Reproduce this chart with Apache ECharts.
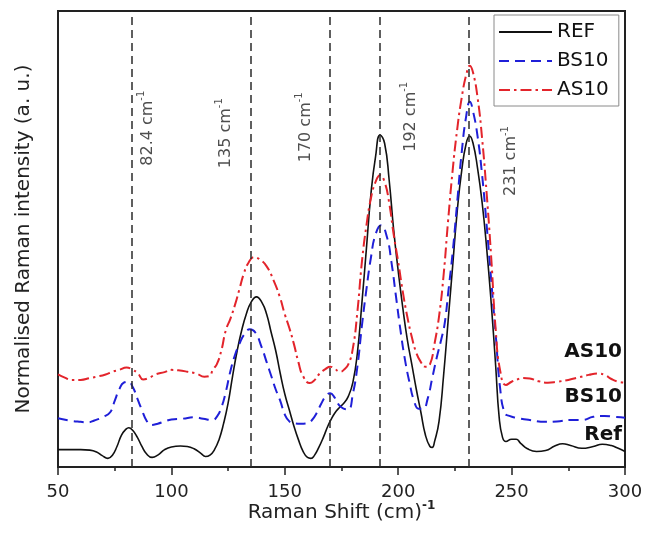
<!DOCTYPE html>
<html>
<head>
<meta charset="utf-8">
<script src="https://cdn.jsdelivr.net/npm/echarts@6/dist/echarts.min.js"></script>
<style>
  html, body { margin: 0; padding: 0; background: #ffffff; }
  #chart { width: 646px; height: 534px; }
</style>
</head>
<body>
<div id="chart"></div>
<script>
// Raman spectra (normalised, offset) — Raman shift in cm^-1
const refShift = [50, 55, 60, 64, 67, 69.5, 72, 74, 76, 78, 80, 81.2, 83, 85, 87, 89, 91.5, 94, 97, 100, 104, 107, 110, 113, 115, 117, 119, 121, 123, 125, 127, 129, 131, 133, 135, 137.5, 140, 142, 144, 146, 148, 150, 152, 154, 156, 158, 160, 161.5, 163, 165, 167, 169, 170.5, 172, 174, 176, 178, 180, 182, 184, 186, 188, 190, 192, 194, 196, 198, 200, 202, 204, 206, 208, 210, 212, 214, 215, 216, 218, 220, 222, 224, 226, 228, 230, 231.5, 233, 235, 237, 239, 241, 243, 244.5, 246, 247.5, 250, 252, 254, 257, 261, 265, 269, 272.5, 276, 281, 286, 290, 294, 297, 300];
const refIntensity = [3.8, 3.8, 3.8, 3.7, 3.3, 2.5, 1.9, 2.6, 4.5, 7, 8.3, 8.6, 8, 6.5, 4.5, 2.9, 2.1, 2.6, 3.8, 4.4, 4.6, 4.5, 4, 3, 2.3, 2.6, 3.8, 6, 9.5, 14, 20, 25.5, 30, 33.5, 36, 37.3, 36, 33.5, 29.5, 25.5, 20.5, 16, 12.5, 9, 6, 3.5, 2.1, 1.9, 2.5, 4.3, 6.5, 9, 10.5, 11.8, 13, 14, 15.5, 18.5, 25, 36, 48, 60, 68, 72.8, 71, 63, 52, 43, 35, 28, 22.5, 17, 12, 7, 4.5, 4.3, 5.5, 10, 20, 32, 44, 56, 65, 71, 72.6, 71, 65.5, 58, 48, 36, 22, 11, 6.5, 5.6, 6.1, 6.1, 5.2, 4, 3.4, 3.6, 4.6, 5.1, 4.7, 4.1, 4.5, 5, 4.7, 4.1, 3.4];

const bs10Shift = [50, 55, 60, 63, 66, 70, 73, 75, 77, 79, 81, 83, 85, 87, 89, 91, 94, 97, 100, 105, 110, 114, 118, 120, 122, 124, 126, 128, 130, 132, 134.6, 137, 139.7, 142, 144, 146, 148, 150, 152, 154, 157, 160, 162, 164, 166, 168, 170, 172, 174, 176, 178, 180, 182, 184, 186, 188, 190, 192.5, 195, 197, 199, 201, 203, 205, 207, 209, 211, 213, 215, 217, 219, 220.5, 222, 224, 226, 228, 230, 231.6, 233, 235, 237, 239, 241, 243, 245, 247, 249, 252, 258, 265, 270, 276, 281, 286, 291, 295, 300];
const bs10Intensity = [10.7, 10.2, 9.9, 9.8, 10.2, 11, 12, 14.5, 17, 18.5, 18.7, 17.5, 15, 12.5, 10.2, 9.2, 9.5, 10, 10.4, 10.6, 10.9, 10.6, 10.3, 11, 13, 16.5, 21, 24.5, 27, 29, 30.2, 29.5, 26.4, 23, 20, 17, 14.5, 11.5, 10, 9.6, 9.5, 9.6, 10.3, 11.8, 13.8, 15.5, 16.2, 15.2, 13.5, 12.8, 12.6, 16, 22, 31, 39, 46, 51, 53, 50.5, 45, 37.5, 30, 23.5, 18.5, 14.5, 12.8, 12.8, 15, 19.5, 24, 28, 31.5, 38, 47, 58, 69, 77, 80.1, 78, 72.5, 64, 53, 41, 29, 17, 11.8, 11.2, 10.8, 10.3, 9.9, 10, 10.3, 10.3, 11, 11.2, 11, 10.8];

const as10Shift = [50, 53, 56, 60, 64, 67, 71, 74, 77, 80.2, 83, 85.3, 87.5, 90, 93, 97, 100, 103, 107, 111, 114.5, 116.5, 118.5, 120, 122, 124, 126, 128, 130, 132, 134, 136.5, 139, 142, 145, 147.8, 150, 152, 154, 156, 158, 161, 163, 165.4, 168, 170, 172, 174.5, 176, 178, 180, 182, 184, 186, 188, 190, 192, 194, 196, 198, 200, 202, 204, 206, 208, 210, 212, 214, 216, 218, 220, 222, 224, 226, 228, 230, 231.6, 233, 235, 237, 239, 241, 243, 245, 247.5, 250, 252, 255, 258, 262, 266, 270, 275, 280, 284, 288, 291, 294, 297, 300];
const as10Intensity = [20.3, 19.6, 19.1, 19.1, 19.5, 19.8, 20.3, 20.9, 21.3, 21.8, 21.3, 20.5, 19.2, 19.5, 20.3, 20.8, 21.3, 21.2, 20.9, 20.5, 19.8, 19.9, 21.5, 22.5, 25.5, 30, 32.5, 35.5, 39, 42.5, 44.8, 46, 45.5, 44, 41, 37.3, 33.5, 30.5, 27, 23, 20, 18.4, 19, 20.5, 21.5, 22, 21.5, 20.9, 21.3, 22.5, 26, 34, 45, 53, 59, 62.5, 64, 62.5, 58, 51, 45, 38.5, 33, 28.5, 25, 23, 22, 22.5, 27, 33, 42, 54, 65, 74, 81, 86, 88, 86.5, 81, 72, 60, 46, 30, 21, 18, 18.7, 19.1, 19.5, 19.4, 18.8, 18.5, 18.7, 19.1, 19.7, 20.2, 20.5, 20.2, 19.3, 18.7, 18.5];

// Assigned Raman modes (cm^-1)
const peakPositions = [82.4, 135, 170, 192, 231];
const peakTexts = ['82.4 cm', '135 cm', '170 cm', '192 cm', '231 cm'];

// x-axis ticks
const xTickValues = [50, 100, 150, 200, 250, 300];

// Sample names
const seriesNames = ['REF', 'BS10', 'AS10'];
const sideLabels = ['AS10', 'BS10', 'Ref'];

// ---- layout of annotations (axis units) ----
const peakLabelDx = [7.2, -11, -10.7, 13.6, 18.7];
const peakLabelY = [74.3, 73.2, 74.5, 76.8, 67.1];

const FONT = 'DejaVu Sans';

function pairs(xs, ys) { return xs.map((x, i) => [x, ys[i]]); }

function spectrum(name, xs, ys, color, width, dash, z) {
  return {
    name: name,
    type: 'line',
    data: pairs(xs, ys),
    smooth: 0.5,
    symbol: 'none',
    showSymbol: false,
    z: z,
    lineStyle: { color: color, width: width, type: dash, join: 'round' },
    itemStyle: { color: color }
  };
}

const chart = echarts.init(document.getElementById('chart'), null, { renderer: 'canvas' });

const option = {
  animation: false,
  backgroundColor: '#ffffff',
  grid: {
    left: 58, right: 21, top: 11, bottom: 67,
    show: true, borderColor: '#222', borderWidth: 2, backgroundColor: 'transparent'
  },
  legend: {
    data: seriesNames,
    orient: 'vertical',
    left: 494, top: 15,
    padding: [7, 10, 6, 4],
    itemGap: 9,
    itemWidth: 53,
    itemHeight: 20,
    backgroundColor: '#ffffff',
    borderColor: '#8a8a8a',
    borderWidth: 1,
    itemStyle: { opacity: 0, borderWidth: 0 },
    textStyle: { fontFamily: FONT, fontSize: 20, color: '#111' }
  },
  xAxis: {
    type: 'value',
    min: xTickValues[0],
    max: xTickValues[xTickValues.length - 1],
    interval: xTickValues[1] - xTickValues[0],
    name: '{n|Raman Shift (cm)}{s|-1}',
    nameLocation: 'middle',
    nameGap: 33,
    nameMoveOverlap: false,
    nameTextStyle: {
      rich: {
        n: { fontFamily: FONT, fontSize: 20, color: '#222', lineHeight: 26 },
        s: { fontFamily: FONT, fontSize: 12, fontWeight: 'bold', color: '#222', verticalAlign: 'top', lineHeight: 12 }
      }
    },
    axisLine: { show: true, lineStyle: { color: '#222', width: 2 } },
    axisTick: { show: true, inside: false, length: 8, lineStyle: { color: '#222', width: 1.5 } },
    minorTick: { show: true, splitNumber: 2, length: 4, lineStyle: { color: '#222', width: 1.5 } },
    axisLabel: { fontFamily: FONT, fontSize: 18, color: '#222', margin: 16 },
    splitLine: { show: false }
  },
  yAxis: {
    type: 'value',
    min: 0,
    max: 100,
    name: 'Normalised Raman intensity (a. u.)',
    nameLocation: 'middle',
    nameGap: 24,
    nameMoveOverlap: false,
    nameTextStyle: { fontFamily: FONT, fontSize: 20, color: '#222' },
    axisLine: { show: true, lineStyle: { color: '#222', width: 2 } },
    axisTick: { show: false },
    axisLabel: { show: false },
    splitLine: { show: false }
  },
  series: [
    {
      name: 'modes',
      type: 'scatter',
      z: 1,
      symbolSize: 1,
      itemStyle: { color: 'transparent' },
      silent: true,
      data: peakPositions.map((p, i) => ({
        value: [p + peakLabelDx[i], peakLabelY[i]],
        label: {
          formatter: '{n|' + peakTexts[i] + '}{s|-1}'
        }
      })),
      label: {
        show: true,
        position: 'inside',
        rotate: 90,
        rich: {
          n: { fontFamily: FONT, fontSize: 16, color: '#222', lineHeight: 22 },
          s: { fontFamily: FONT, fontSize: 10, color: '#222', verticalAlign: 'top', lineHeight: 10 }
        }
      },
      markLine: {
        silent: true,
        symbol: ['none', 'none'],
        label: { show: false },
        lineStyle: { color: '#2b2b2b', width: 1.5, type: [8, 5] },
        data: peakPositions.map(p => ({ xAxis: p }))
      }
    },
    spectrum(seriesNames[0], refShift, refIntensity, '#111111', 1.6, 'solid', 3),
    spectrum(seriesNames[1], bs10Shift, bs10Intensity, '#1f1fd8', 2, [10, 6], 3),
    spectrum(seriesNames[2], as10Shift, as10Intensity, '#e3242b', 2, [11, 4, 2.5, 4], 3)
  ],
  graphic: [
    { type: 'text', x: 622, y: 352, style: { text: sideLabels[0], font: 'bold 20px "DejaVu Sans"', fill: '#111', align: 'right', verticalAlign: 'middle' } },
    { type: 'text', x: 622, y: 397, style: { text: sideLabels[1], font: 'bold 20px "DejaVu Sans"', fill: '#111', align: 'right', verticalAlign: 'middle' } },
    { type: 'text', x: 622, y: 435, style: { text: sideLabels[2], font: 'bold 20px "DejaVu Sans"', fill: '#111', align: 'right', verticalAlign: 'middle' } }
  ]
};

chart.setOption(option);
</script>
</body>
</html>
